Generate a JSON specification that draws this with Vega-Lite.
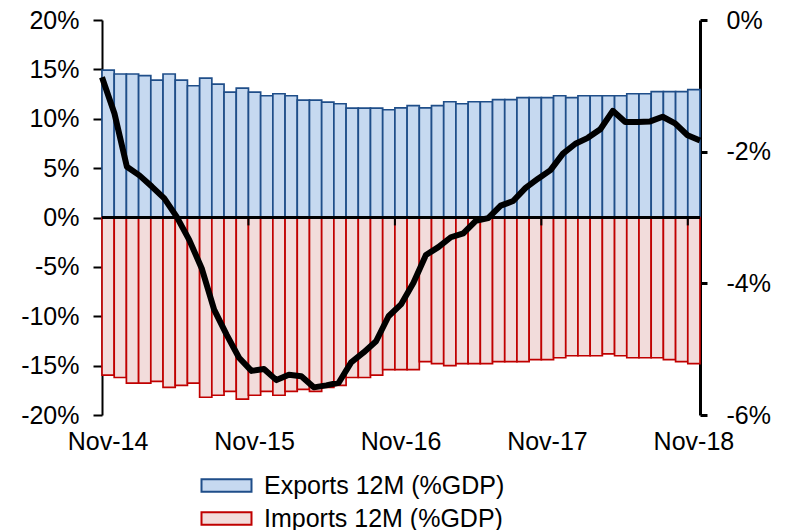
{
  "$schema": "https://vega.github.io/schema/vega-lite/v6.json",
  "width": 598,
  "height": 395,
  "autosize": {"type": "none"},
  "padding": {"left": 102, "top": 20, "right": 90, "bottom": 115},
  "background": "white",
  "config": {
    "font": "Liberation Sans",
    "view": {"stroke": null},
    "axis": {"grid": false, "title": null, "labelColor": "black", "labelFontSize": 25, "labelFont": "Liberation Sans"}
  },
  "data": {
    "values": [
      {"date": "2014-11", "exports": 14.93, "imports": -15.96, "balance": -0.87},
      {"date": "2014-12", "exports": 14.53, "imports": -16.2, "balance": -1.42},
      {"date": "2015-01", "exports": 14.53, "imports": -16.77, "balance": -2.23},
      {"date": "2015-02", "exports": 14.36, "imports": -16.77, "balance": -2.36},
      {"date": "2015-03", "exports": 13.92, "imports": -16.6, "balance": -2.53},
      {"date": "2015-04", "exports": 14.53, "imports": -17.2, "balance": -2.71},
      {"date": "2015-05", "exports": 13.92, "imports": -17.0, "balance": -2.99},
      {"date": "2015-06", "exports": 13.34, "imports": -16.77, "balance": -3.34},
      {"date": "2015-07", "exports": 14.12, "imports": -18.2, "balance": -3.77},
      {"date": "2015-08", "exports": 13.51, "imports": -18.0, "balance": -4.4},
      {"date": "2015-09", "exports": 12.7, "imports": -17.6, "balance": -4.78},
      {"date": "2015-10", "exports": 13.11, "imports": -18.4, "balance": -5.13},
      {"date": "2015-11", "exports": 12.7, "imports": -18.0, "balance": -5.33},
      {"date": "2015-12", "exports": 12.33, "imports": -17.6, "balance": -5.3},
      {"date": "2016-01", "exports": 12.53, "imports": -18.0, "balance": -5.47},
      {"date": "2016-02", "exports": 12.33, "imports": -17.6, "balance": -5.39},
      {"date": "2016-03", "exports": 11.89, "imports": -17.4, "balance": -5.41},
      {"date": "2016-04", "exports": 11.89, "imports": -17.6, "balance": -5.58},
      {"date": "2016-05", "exports": 11.69, "imports": -17.2, "balance": -5.55},
      {"date": "2016-06", "exports": 11.52, "imports": -17.0, "balance": -5.51},
      {"date": "2016-07", "exports": 11.08, "imports": -16.2, "balance": -5.2},
      {"date": "2016-08", "exports": 11.08, "imports": -16.2, "balance": -5.05},
      {"date": "2016-09", "exports": 11.08, "imports": -15.96, "balance": -4.88},
      {"date": "2016-10", "exports": 10.91, "imports": -15.4, "balance": -4.5},
      {"date": "2016-11", "exports": 11.1, "imports": -15.4, "balance": -4.32},
      {"date": "2016-12", "exports": 11.32, "imports": -15.4, "balance": -3.99},
      {"date": "2017-01", "exports": 11.1, "imports": -14.6, "balance": -3.57},
      {"date": "2017-02", "exports": 11.32, "imports": -14.8, "balance": -3.45},
      {"date": "2017-03", "exports": 11.72, "imports": -15.0, "balance": -3.3},
      {"date": "2017-04", "exports": 11.52, "imports": -14.8, "balance": -3.24},
      {"date": "2017-05", "exports": 11.72, "imports": -14.8, "balance": -3.05},
      {"date": "2017-06", "exports": 11.72, "imports": -14.8, "balance": -3.01},
      {"date": "2017-07", "exports": 11.93, "imports": -14.6, "balance": -2.82},
      {"date": "2017-08", "exports": 11.93, "imports": -14.6, "balance": -2.75},
      {"date": "2017-09", "exports": 12.13, "imports": -14.6, "balance": -2.55},
      {"date": "2017-10", "exports": 12.13, "imports": -14.4, "balance": -2.41},
      {"date": "2017-11", "exports": 12.13, "imports": -14.4, "balance": -2.28},
      {"date": "2017-12", "exports": 12.33, "imports": -14.2, "balance": -2.03},
      {"date": "2018-01", "exports": 12.13, "imports": -14.0, "balance": -1.88},
      {"date": "2018-02", "exports": 12.33, "imports": -14.0, "balance": -1.79},
      {"date": "2018-03", "exports": 12.33, "imports": -14.0, "balance": -1.66},
      {"date": "2018-04", "exports": 12.33, "imports": -13.8, "balance": -1.38},
      {"date": "2018-05", "exports": 12.33, "imports": -14.0, "balance": -1.55},
      {"date": "2018-06", "exports": 12.53, "imports": -14.2, "balance": -1.55},
      {"date": "2018-07", "exports": 12.53, "imports": -14.2, "balance": -1.54},
      {"date": "2018-08", "exports": 12.74, "imports": -14.2, "balance": -1.47},
      {"date": "2018-09", "exports": 12.74, "imports": -14.4, "balance": -1.57},
      {"date": "2018-10", "exports": 12.74, "imports": -14.6, "balance": -1.75},
      {"date": "2018-11", "exports": 12.94, "imports": -14.8, "balance": -1.83}
    ]
  },
  "layer": [
    {
      "layer": [
        {
          "transform": [{"fold": ["exports", "imports"], "as": ["series", "value"]}],
          "mark": {"type": "bar", "strokeWidth": 1.7},
          "encoding": {
            "x": {
              "field": "date", "type": "ordinal",
              "scale": {"type": "band", "paddingInner": 0, "paddingOuter": 0},
              "axis": {
                "orient": "bottom", "domain": false, "ticks": false, "labelAngle": 0,
                "labelPadding": 14, "labelOverlap": false, "labelBound": false,
                "values": ["2014-11", "2015-11", "2016-11", "2017-11", "2018-11"],
                "labelExpr": "'Nov-' + substring(datum.value, 2, 4)"
              }
            },
            "y": {
              "field": "value", "type": "quantitative", "stack": null,
              "scale": {"domain": [-20, 20], "nice": false},
              "axis": {
                "orient": "left", "values": [-20, -15, -10, -5, 0, 5, 10, 15, 20],
                "labelExpr": "datum.value + '%'",
                "domainColor": "black", "domainWidth": 2,
                "tickColor": "black", "tickWidth": 2, "tickSize": 9,
                "labelPadding": 14
              }
            },
            "fill": {
              "field": "series", "type": "nominal",
              "scale": {"domain": ["exports", "imports"], "range": ["#C6D9F0", "#F2DCDB"]},
              "legend": {
                "orient": "none", "legendX": 112, "legendY": 453, "title": null,
                "direction": "vertical",
                "labelExpr": "datum.value == 'exports' ? 'Exports 12M (%GDP)' : 'Imports 12M (%GDP)'",
                "labelFontSize": 25, "labelColor": "black", "labelFont": "Liberation Sans", "labelLimit": 0,
                "symbolType": "M-2.5,-0.62L2.5,-0.62L2.5,0.62L-2.5,0.62Z",
                "symbolSize": 400, "symbolStrokeWidth": 2, "symbolOpacity": 1,
                "labelOffset": 25, "rowPadding": 7
              }
            },
            "stroke": {
              "field": "series", "type": "nominal",
              "scale": {"domain": ["exports", "imports"], "range": ["#1F4E89", "#C00000"]},
              "legend": {
                "orient": "none", "legendX": 112, "legendY": 453, "title": null,
                "direction": "vertical",
                "labelExpr": "datum.value == 'exports' ? 'Exports 12M (%GDP)' : 'Imports 12M (%GDP)'",
                "labelFontSize": 25, "labelColor": "black", "labelFont": "Liberation Sans", "labelLimit": 0,
                "symbolType": "M-2.5,-0.62L2.5,-0.62L2.5,0.62L-2.5,0.62Z",
                "symbolSize": 400, "symbolStrokeWidth": 2, "symbolOpacity": 1,
                "labelOffset": 25, "rowPadding": 7
              }
            }
          }
        },
        {
          "mark": {"type": "rule", "color": "black", "strokeWidth": 2},
          "encoding": {"y": {"datum": 0}}
        },
        {
          "transform": [{"filter": "substring(datum.date, 5, 7) == '11' && datum.date != '2014-11'"}],
          "mark": {"type": "rule", "color": "black", "strokeWidth": 2},
          "encoding": {
            "x": {"field": "date", "type": "ordinal", "bandPosition": 0},
            "y": {"datum": 0},
            "y2": {"datum": -0.8}
          }
        }
      ]
    },
    {
      "mark": {"type": "line", "color": "black", "strokeWidth": 6, "strokeJoin": "round"},
      "encoding": {
        "x": {
          "field": "date", "type": "ordinal",
          "scale": {"type": "point", "padding": 0},
          "axis": null
        },
        "y": {
          "field": "balance", "type": "quantitative",
          "scale": {"domain": [-6, 0], "nice": false},
          "axis": {
            "orient": "right", "values": [-6, -4, -2, 0],
            "labelExpr": "datum.value + '%'",
            "domainColor": "black", "domainWidth": 3,
            "tickColor": "black", "tickWidth": 3, "tickSize": 7,
            "labelPadding": 19
          }
        }
      }
    }
  ],
  "resolve": {"scale": {"x": "independent", "y": "independent"}}
}
